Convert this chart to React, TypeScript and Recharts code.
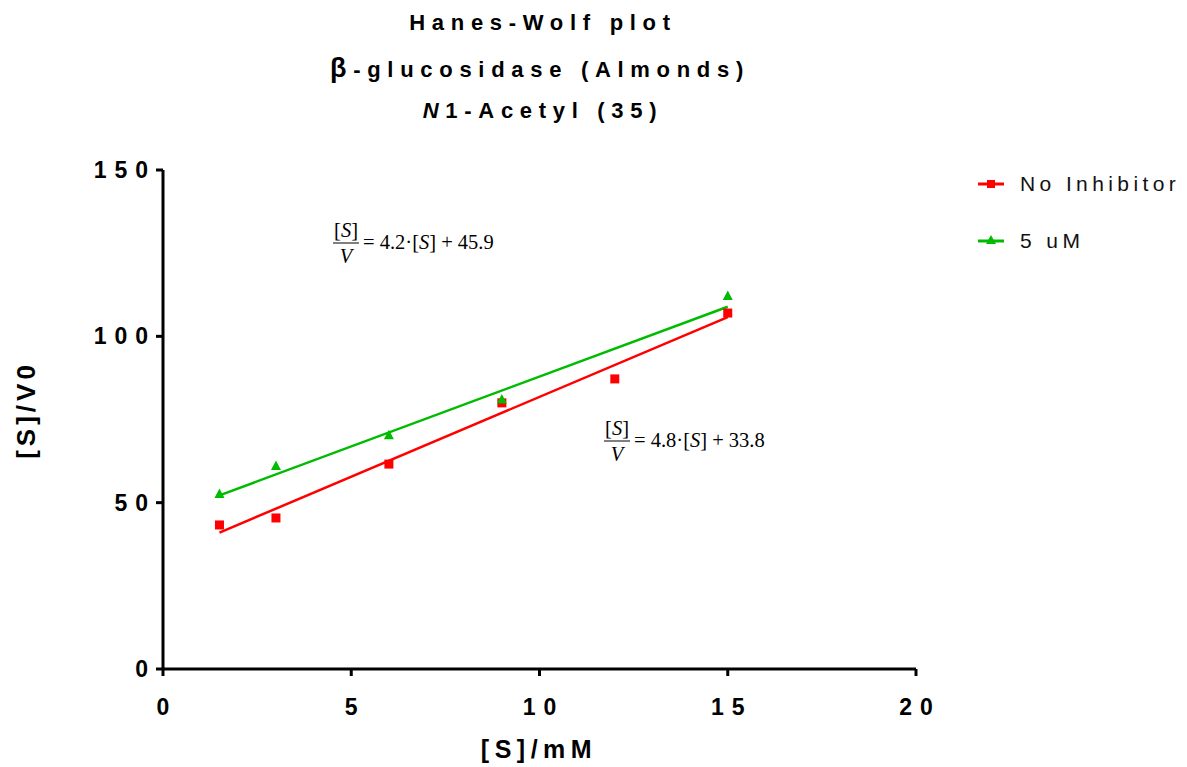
import React from 'react';
import { ComposedChart, XAxis, YAxis, Scatter, Line, Customized } from 'recharts';

// ---- data ----
const xTicks = [0, 5, 10, 15, 20];
const yTicks = [0, 50, 100, 150];

const noInhibitorS = [1.5, 3, 6, 9, 12, 15];
const noInhibitorV = [43.3, 45.4, 61.6, 80, 87.2, 107];

const uM5S = [1.5, 3, 6, 9, 15];
const uM5V = [52.6, 61, 70.3, 81, 112.1];

// fitted regression lines (endpoints)
const fitS = [1.5, 15];
const noInhibitorFit = [41.0, 105.8];
const uM5Fit = [52.2, 108.9];

const seriesNames = ['No Inhibitor', '5 uM'];
const seriesColors = ['#ff0000', '#00bb00'];

const toPts = (xs: number[], ys: number[]) => xs.map((x, i) => ({ x, y: ys[i] }));
const noInhData = toPts(noInhibitorS, noInhibitorV);
const uM5Data = toPts(uM5S, uM5V);
const noInhFitData = toPts(fitS, noInhibitorFit);
const uM5FitData = toPts(fitS, uM5Fit);

const FONT = '"Liberation Sans", Arial, Helvetica, sans-serif';
const SERIF = '"Liberation Serif", "Times New Roman", serif';

const Square = (props: any) => {
  const { cx, cy, fill } = props;
  if (cx == null || cy == null) return null;
  return <rect x={cx - 4.5} y={cy - 4.5} width={9} height={9} fill={fill} />;
};
const Triangle = (props: any) => {
  const { cx, cy, fill } = props;
  if (cx == null || cy == null) return null;
  return <polygon points={`${cx},${cy - 5.5} ${cx + 5},${cy + 4} ${cx - 5},${cy + 4}`} fill={fill} />;
};

const XTick = (props: any) => {
  const { x, y, payload } = props;
  return (
    <text x={x + 4} y={y + 37} textAnchor="middle" fontFamily={FONT} fontWeight="bold" fontSize={23} letterSpacing={8} fill="#000">
      {payload.value}
    </text>
  );
};
const YTick = (props: any) => {
  const { y, payload } = props;
  return (
    <text x={156} y={y + 8} textAnchor="end" fontFamily={FONT} fontWeight="bold" fontSize={23} letterSpacing={8} fill="#000">
      {payload.value}
    </text>
  );
};

const Equation = ({ x, y, slope, intercept }: { x: number; y: number; slope: string; intercept: string }) => (
  <g fontFamily={SERIF} fontSize={20.5} fill="#000">
    <text x={x + 13} y={y - 6} textAnchor="middle">
      [<tspan fontStyle="italic">S</tspan>]
    </text>
    <line x1={x} x2={x + 26} y1={y} y2={y} stroke="#000" strokeWidth={1} />
    <text x={x + 13} y={y + 20} textAnchor="middle" fontStyle="italic">V</text>
    <text x={x + 30} y={y + 6}>
      {'= ' + slope + '·['}
      <tspan fontStyle="italic">S</tspan>
      {'] + ' + intercept}
    </text>
  </g>
);

const Annotations = () => (
  <g>
    <g fontFamily={FONT} fontWeight="bold" fontSize={22} letterSpacing={6.7} fill="#000" textAnchor="middle">
      <text x={543} y={30}>Hanes-Wolf plot</text>
      <text x={540} y={77}>
        <tspan fontSize={27}>β</tspan>-glucosidase (Almonds)
      </text>
      <text x={543} y={118}>
        <tspan fontStyle="italic">N</tspan>1-Acetyl (35)
      </text>
    </g>
    <text x={35} y={410} transform="rotate(-90 35 410)" textAnchor="middle" fontFamily={FONT} fontWeight="bold" fontSize={26} letterSpacing={4} fill="#000">
      [S]/V0
    </text>
    <text x={539} y={758} textAnchor="middle" fontFamily={FONT} fontWeight="bold" fontSize={25} letterSpacing={5.5} fill="#000">
      [S]/mM
    </text>
    <Equation x={333} y={243} slope="4.2" intercept="45.9" />
    <Equation x={604} y={441} slope="4.8" intercept="33.8" />
  </g>
);

const LegendBox = () => (
  <div style={{ position: 'absolute', left: 975, top: 170, width: 212, height: 90 }}>
    {seriesNames.map((name, i) => (
      <div key={name} style={{ position: 'absolute', left: 0, top: i * 57, height: 28, width: 212 }}>
        <svg width={30} height={28} style={{ position: 'absolute', left: 0, top: 0 }}>
          <line x1={3} x2={29} y1={14} y2={14} stroke={seriesColors[i]} strokeWidth={3} />
          {i === 0 ? (
            <rect x={12} y={10} width={8} height={8} fill={seriesColors[i]} />
          ) : (
            <polygon points="16,8 21,17 11,17" fill={seriesColors[i]} />
          )}
        </svg>
        <span
          style={{
            position: 'absolute',
            left: 45,
            top: 1,
            fontFamily: FONT,
            fontSize: 21,
            letterSpacing: 4.4,
            color: '#111',
            whiteSpace: 'nowrap',
            lineHeight: '26px',
          }}
        >
          {name}
        </span>
      </div>
    ))}
  </div>
);

export default function App() {
  return (
    <div style={{ position: 'absolute', left: 0, top: 0, width: 1187, height: 767, background: '#fff' }}>
      <ComposedChart width={1187} height={767} margin={{ top: 170, right: 271, left: 0, bottom: 0 }}>
        <XAxis
          type="number"
          dataKey="x"
          domain={[0, 20]}
          ticks={xTicks}
          height={98}
          axisLine={{ stroke: '#000', strokeWidth: 3 }}
          tickLine={{ stroke: '#000', strokeWidth: 3 }}
          tickSize={7}
          tick={<XTick />}
          allowDataOverflow
        />
        <YAxis
          type="number"
          dataKey="y"
          domain={[0, 150]}
          ticks={yTicks}
          width={163}
          axisLine={{ stroke: '#000', strokeWidth: 3 }}
          tickLine={{ stroke: '#000', strokeWidth: 3 }}
          tickSize={7}
          tick={<YTick />}
          allowDataOverflow
        />
        <Line data={noInhFitData} dataKey="y" type="linear" stroke={seriesColors[0]} strokeWidth={2.5} dot={false} isAnimationActive={false} legendType="none" />
        <Line data={uM5FitData} dataKey="y" type="linear" stroke={seriesColors[1]} strokeWidth={2.5} dot={false} isAnimationActive={false} legendType="none" />
        <Scatter name={seriesNames[0]} data={noInhData} dataKey="y" fill={seriesColors[0]} shape={<Square />} isAnimationActive={false} />
        <Scatter name={seriesNames[1]} data={uM5Data} dataKey="y" fill={seriesColors[1]} shape={<Triangle />} isAnimationActive={false} />
        <Customized component={<Annotations />} />
      </ComposedChart>
      <LegendBox />
    </div>
  );
}
